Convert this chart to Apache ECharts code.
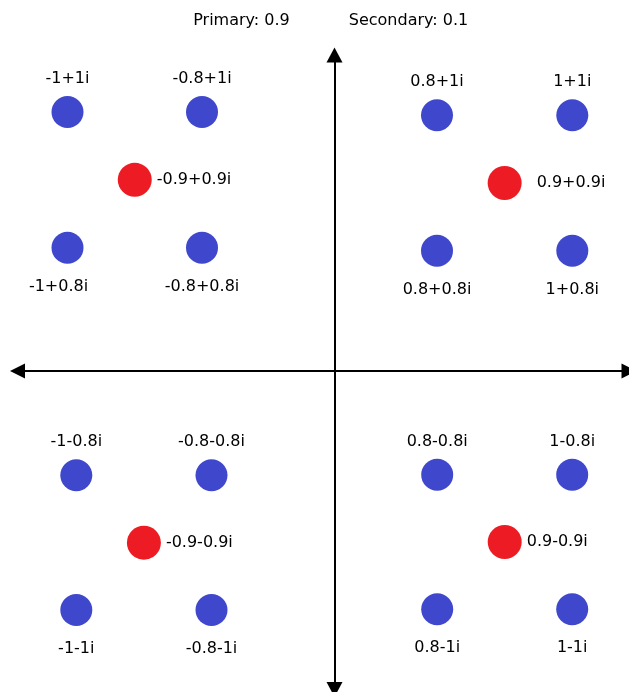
<!DOCTYPE html>
<html>
<head>
<meta charset="utf-8">
<title>Constellation</title>
<script src="https://cdn.jsdelivr.net/npm/echarts@6/dist/echarts.min.js"></script>
<style>
  html, body { margin: 0; padding: 0; background: #ffffff; }
  #chart { width: 629px; height: 692px; }
</style>
</head>
<body>
<div id="chart"></div>
<script>
// Primary symbols (complex value as [re, im])
const primaryPoints = [
  [-0.9, 0.9], [0.9, 0.9],
  [-0.9, -0.9], [0.9, -0.9]
];

// Secondary symbols around each primary one
const secondaryPoints = [
  [-1, 1], [-0.8, 1], [-1, 0.8], [-0.8, 0.8],
  [0.8, 1], [1, 1], [0.8, 0.8], [1, 0.8],
  [-1, -0.8], [-0.8, -0.8], [-1, -1], [-0.8, -1],
  [0.8, -0.8], [1, -0.8], [0.8, -1], [1, -1]
];

// Real / imaginary ranges shown by each quadrant (UL, UR, LL, LR)
const quadrantRe = [[-1, -0.8], [0.8, 1], [-1, -0.8], [0.8, 1]];
const quadrantIm = [[0.8, 1], [0.8, 1], [-1, -0.8], [-1, -0.8]];

const headings = ['Primary: 0.9', 'Secondary: 0.1'];

// Pixel boxes of the four quadrant plots
const quadrantBoxes = [
  { left: 67.5, top: 112,   width: 134.5, height: 135.7 },
  { left: 437,  top: 115.3, width: 135.3, height: 135.4 },
  { left: 76.3, top: 475.3, width: 135.2, height: 134.7 },
  { left: 437.2, top: 474.7, width: 135,  height: 134.6 }
];

const FONT = 'DejaVu Sans';
const BLUE = '#3f48cc';
const RED = '#ed1c24';

function quadrantOf(p) {
  return (p[1] > 0 ? 0 : 2) + (p[0] > 0 ? 1 : 0);
}
function complexText(p) {
  return p[0] + (p[1] < 0 ? '-' : '+') + Math.abs(p[1]) + 'i';
}

const grids = [];
const xAxes = [];
const yAxes = [];
const series = [];

quadrantBoxes.forEach(function (box, q) {
  grids.push(Object.assign({ containLabel: false }, box));
  xAxes.push({
    type: 'value', gridIndex: q,
    min: quadrantRe[q][0], max: quadrantRe[q][1],
    show: false
  });
  yAxes.push({
    type: 'value', gridIndex: q,
    min: quadrantIm[q][0], max: quadrantIm[q][1],
    show: false
  });

  const labelBase = {
    show: true, color: '#000', fontFamily: FONT, fontSize: 16,
    formatter: function (prm) { return complexText(prm.value); }
  };

  series.push({
    type: 'scatter', xAxisIndex: q, yAxisIndex: q, clip: false,
    symbol: 'circle', symbolSize: 32,
    itemStyle: { color: BLUE, opacity: 1 },
    label: labelBase,
    data: secondaryPoints.filter(function (p) { return quadrantOf(p) === q; })
      .map(function (p) {
        const upper = p[1] === quadrantIm[q][1];
        // the lower-left label of the first quadrant sits a little further left
        const shift = (q === 0 && !upper && p[0] === quadrantRe[q][0]) ? -9 : 0;
        return {
          value: p,
          label: {
            position: upper ? 'top' : 'bottom',
            distance: upper ? 9 : 15,
            offset: [shift, 0]
          }
        };
      })
  });

  series.push({
    type: 'scatter', xAxisIndex: q, yAxisIndex: q, clip: false,
    symbol: 'circle', symbolSize: 34,
    itemStyle: { color: RED, opacity: 1 },
    label: Object.assign({}, labelBase, { position: 'right', distance: q === 1 ? 15 : 5 }),
    data: primaryPoints.filter(function (p) { return quadrantOf(p) === q; })
  });
});

// Real and imaginary axes crossing at the origin, with arrow heads
grids.push({ left: 17.5, top: 370, width: 615, height: 1 });
xAxes.push({
  type: 'value', gridIndex: 4, min: -1, max: 1, position: 'bottom',
  axisLine: {
    show: true, onZero: false,
    symbol: ['triangle', 'triangle'], symbolSize: [15, 15],
    lineStyle: { color: '#000', width: 2 }
  },
  axisTick: { show: false }, axisLabel: { show: false }, splitLine: { show: false }
});
yAxes.push({ type: 'value', gridIndex: 4, show: false });

grids.push({ left: 334.5, top: 55, width: 1, height: 634.5 });
xAxes.push({ type: 'value', gridIndex: 5, show: false });
yAxes.push({
  type: 'value', gridIndex: 5, min: -1, max: 1, position: 'left',
  axisLine: {
    show: true, onZero: false,
    symbol: ['triangle', 'triangle'], symbolSize: [16, 15],
    lineStyle: { color: '#000', width: 2 }
  },
  axisTick: { show: false }, axisLabel: { show: false }, splitLine: { show: false }
});

const chart = echarts.init(document.getElementById('chart'), null, { renderer: 'canvas' });
chart.setOption({
  animation: false,
  backgroundColor: '#ffffff',
  title: [
    { text: headings[0], left: 241.5, top: 13, textAlign: 'center', padding: 0,
      textStyle: { fontFamily: FONT, fontSize: 16, fontWeight: 'normal', color: '#000' } },
    { text: headings[1], left: 408.5, top: 13, textAlign: 'center', padding: 0,
      textStyle: { fontFamily: FONT, fontSize: 16, fontWeight: 'normal', color: '#000' } }
  ],
  grid: grids,
  xAxis: xAxes,
  yAxis: yAxes,
  series: series
});
</script>
</body>
</html>
